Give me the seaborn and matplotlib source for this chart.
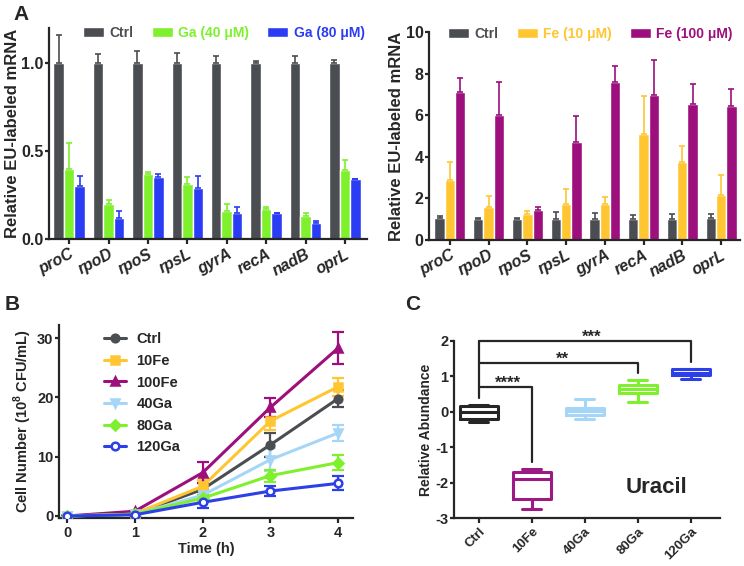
import numpy as np
import pandas as pd
import matplotlib
matplotlib.use('Agg')
import matplotlib.pyplot as plt
import seaborn as sns

# data
genes = ['proC', 'rpoD', 'rpoS', 'rpsL', 'gyrA', 'recA', 'nadB', 'oprL']

# panel A, left: Ga treatment (bar value, top of error bar)
ga_ctrl = [1.0, 1.0, 1.0, 1.0, 1.0, 1.0, 1.0, 1.0]
ga_ctrl_top = [1.16, 1.05, 1.07, 1.06, 1.04, 1.01, 1.04, 1.02]
ga40 = [0.40, 0.20, 0.37, 0.31, 0.16, 0.17, 0.13, 0.39]
ga40_top = [0.545, 0.22, 0.38, 0.35, 0.20, 0.18, 0.15, 0.45]
ga80 = [0.30, 0.12, 0.35, 0.29, 0.15, 0.15, 0.09, 0.34]
ga80_top = [0.36, 0.16, 0.37, 0.36, 0.18, 0.15, 0.10, 0.34]

# panel A, right: Fe treatment
fe_ctrl = [1.05, 1.03, 1.03, 1.03, 1.03, 1.03, 1.03, 1.05]
fe_ctrl_top = [1.15, 1.07, 1.07, 1.35, 1.28, 1.2, 1.25, 1.25]
fe10 = [2.89, 1.57, 1.24, 1.73, 1.73, 5.09, 3.74, 2.17]
fe10_top = [3.77, 2.12, 1.41, 2.47, 2.09, 6.93, 4.53, 3.11]
fe100 = [7.11, 6.02, 1.44, 4.69, 7.58, 6.95, 6.55, 6.42]
fe100_top = [7.78, 7.62, 1.61, 5.97, 8.38, 8.64, 7.50, 7.27]

# panel B: growth curves
time_h = [0, 1, 2, 3, 4]
growth = {
    'Ctrl': [0, 0.3, 4.5, 12.0, 19.8],
    '10Fe': [0, 0.4, 5.0, 16.0, 21.8],
    '100Fe': [0, 0.8, 7.3, 18.3, 28.3],
    '40Ga': [0, 0.3, 3.5, 9.5, 14.0],
    '80Ga': [0, 0.3, 3.0, 6.8, 9.0],
    '120Ga': [0, 0.2, 2.3, 4.2, 5.5],
}
growth_err = {
    'Ctrl': [0, 0.1, 1.0, 2.0, 1.5],
    '10Fe': [0, 0.1, 1.0, 1.5, 1.5],
    '100Fe': [0, 0.1, 1.8, 1.6, 2.7],
    '40Ga': [0, 0.1, 0.8, 2.0, 1.4],
    '80Ga': [0, 0.1, 0.6, 1.0, 1.2],
    '120Ga': [0, 0.1, 1.0, 0.8, 1.2],
}

# panel C: uracil relative abundance (min, q1, median, q3, max)
groups_c = ['Ctrl', '10Fe', '40Ga', '80Ga', '120Ga']
uracil = {
    'Ctrl': [-0.30, -0.19, 0.0, 0.17, 0.20],
    '10Fe': [-2.75, -2.47, -1.89, -1.70, -1.62],
    '40Ga': [-0.19, -0.08, 0.02, 0.12, 0.35],
    '80Ga': [0.28, 0.52, 0.64, 0.75, 0.90],
    '120Ga': [0.92, 1.04, 1.10, 1.20, 1.22],
}

c_ctrl = '#4a4d51'
c_ga40 = '#7ef02c'
c_ga80 = '#2b3cf5'
c_fe10 = '#ffc631'
c_fe100 = '#9c0f7d'
c_ga40_light = '#a6d6f7'
c_ga120 = '#2d3fe8'

sns.set_style('ticks')
plt.rcParams['font.family'] = ['Liberation Sans', 'DejaVu Sans']
plt.rcParams['font.weight'] = 'bold'
plt.rcParams['axes.labelweight'] = 'bold'
plt.rcParams['axes.linewidth'] = 1.6
plt.rcParams['axes.unicode_minus'] = False
plt.rcParams['axes.labelpad'] = 2
plt.rcParams['xtick.major.width'] = 1.6
plt.rcParams['ytick.major.width'] = 1.6
plt.rcParams['xtick.major.size'] = 3.5
plt.rcParams['ytick.major.size'] = 3
plt.rcParams['xtick.major.pad'] = 2
plt.rcParams['ytick.major.pad'] = 1
plt.rcParams['mathtext.fontset'] = 'custom'
plt.rcParams['mathtext.rm'] = 'Liberation Sans:bold'
plt.rcParams['mathtext.bf'] = 'Liberation Sans:bold'

W, H = 744, 566
fig = plt.figure(figsize=(W / 100, H / 100), dpi=100)


def px_axes(left, right, top, bottom):
    return fig.add_axes([left / W, 1 - bottom / H, (right - left) / W, (bottom - top) / H])


def bar_panel(ax, ctrl, ctrl_top, t1, t1_top, t2, t2_top, names, colors):
    df = pd.DataFrame({
        'gene': genes * 3,
        'cond': [names[0]] * 8 + [names[1]] * 8 + [names[2]] * 8,
        'value': ctrl + t1 + t2,
    })
    sns.barplot(data=df, x='gene', y='value', hue='cond', palette=colors,
                errorbar=None, width=0.8, saturation=1, ax=ax)
    tops = [ctrl_top, t1_top, t2_top]
    for cont, top, col in zip(ax.containers, tops, colors):
        for bar, tp in zip(cont, top):
            xc = bar.get_x() + bar.get_width() / 2
            h = bar.get_height()
            ax.errorbar(xc, h, yerr=[[0], [max(tp - h, 0)]], color=col,
                        elinewidth=1.2, capsize=2, capthick=1.2, zorder=1)
    ax.set_xlabel('')
    ax.set_ylabel('Relative EU-labeled mRNA', fontsize=12, labelpad=1)
    for lab in ax.get_xticklabels():
        lab.set_style('italic')
        lab.set_fontweight('bold')
        lab.set_fontsize(11.5)
        lab.set_rotation(28)
        lab.set_ha('right')
        lab.set_rotation_mode('anchor')
    ax.tick_params(axis='y', labelsize=11.5)
    sns.despine(ax=ax)
    leg = ax.legend(ncol=3, frameon=False, loc='upper center',
                    handlelength=1.5, handleheight=0.7, columnspacing=1.3,
                    handletextpad=0.4, fontsize=10)
    for txt, col in zip(leg.get_texts(), colors):
        txt.set_color(col)
    return leg


# panel A left
axa1 = px_axes(49, 367, 28, 239)
leg = bar_panel(axa1, ga_ctrl, ga_ctrl_top, ga40, ga40_top, ga80, ga80_top,
                ['Ctrl', 'Ga (40 μM)', 'Ga (80 μM)'], [c_ctrl, c_ga40, c_ga80])
leg.set_bbox_to_anchor((0.55, 1.07), transform=axa1.transAxes)
axa1.set_xlim(-0.51, 7.56)
axa1.set_ylim(0, 1.2)
axa1.set_yticks([0, 0.5, 1.0])
axa1.set_yticklabels(['0.0', '0.5', '1.0'])

# panel A right
axa2 = px_axes(429, 740, 32, 240)
leg = bar_panel(axa2, fe_ctrl, fe_ctrl_top, fe10, fe10_top, fe100, fe100_top,
                ['Ctrl', 'Fe (10 μM)', 'Fe (100 μM)'], [c_ctrl, c_fe10, c_fe100])
leg.set_bbox_to_anchor((0.52, 1.085), transform=axa2.transAxes)
axa2.set_xlim(-0.54, 7.49)
axa2.set_ylim(0, 10)
axa2.set_yticks([0, 2, 4, 6, 8, 10])

# panel B
axb = px_axes(59, 353, 325, 518)
series_style = {
    'Ctrl': (c_ctrl, 'o', c_ctrl),
    '10Fe': (c_fe10, 's', c_fe10),
    '100Fe': (c_fe100, '^', c_fe100),
    '40Ga': (c_ga40_light, 'v', c_ga40_light),
    '80Ga': (c_ga40, 'D', c_ga40),
    '120Ga': (c_ga120, 'o', 'white'),
}
for name, vals in growth.items():
    col, mk, face = series_style[name]
    sns.lineplot(x=time_h, y=vals, color=col, marker=mk, markersize=5.5,
                 markerfacecolor=face, markeredgecolor=col, markeredgewidth=1.8,
                 linewidth=2.2, label=name, ax=axb, zorder=3)
    axb.errorbar(time_h, vals, yerr=growth_err[name], fmt='none', ecolor=col,
                 elinewidth=1.6, capsize=4, capthick=1.6, zorder=2)
axb.set_xlim(-0.12, 4.22)
axb.set_ylim(-0.34, 32.2)
axb.set_xticks([0, 1, 2, 3, 4])
axb.set_yticks([0, 10, 20, 30])
axb.tick_params(labelsize=10.5)
axb.set_xlabel('Time (h)', fontsize=10.5)
axb.set_ylabel(r'Cell Number (10$^{8}$ CFU/mL)', fontsize=10.5)
axb.legend(frameon=False, loc='upper left', bbox_to_anchor=(0.11, 1.03), fontsize=10.5,
           handlelength=1.5, labelspacing=0.52, handletextpad=0.7)
sns.despine(ax=axb)

# panel C
axc = px_axes(454, 720, 341, 518)
dfc = pd.DataFrame({
    'group': [g for g in groups_c for _ in uracil[g]],
    'value': [v for g in groups_c for v in uracil[g]],
})
pal_c = {'Ctrl': '#262626', '10Fe': '#9c1a84', '40Ga': c_ga40_light,
         '80Ga': c_ga40, '120Ga': c_ga120}
sns.boxplot(data=dfc, x='group', y='value', hue='group', palette=pal_c, order=groups_c,
            whis=(0, 100), fill=False, linewidth=2.2, width=0.72, legend=False, ax=axc)
axc.set_xlim(-0.47, 4.55)
axc.set_ylim(-3, 2)
axc.set_yticks([-3, -2, -1, 0, 1, 2])
axc.set_xlabel('')
axc.set_ylabel('Relative Abundance', fontsize=10)
axc.tick_params(axis='y', labelsize=10.5)
for lab in axc.get_xticklabels():
    lab.set_fontsize(9.5)
    lab.set_rotation(45)
    lab.set_ha('right')
    lab.set_rotation_mode('anchor')
sns.despine(ax=axc)

brk = dict(color='#262626', lw=1.6, clip_on=False)
axc.plot([0, 0], [0.39, 2.0], **brk)
axc.plot([0, 4, 4], [2.0, 2.0, 1.42], **brk)
axc.plot([0, 3, 3], [1.37, 1.37, 1.09], **brk)
axc.plot([0, 1, 1], [0.71, 0.71, -1.41], **brk)
axc.text(2.13, 2.1, '***', ha='center', va='center', fontsize=12, clip_on=False)
axc.text(1.58, 1.47, '**', ha='center', va='center', fontsize=12)
axc.text(0.55, 0.81, '****', ha='center', va='center', fontsize=12)
axc.text(3.36, -2.15, 'Uracil', ha='center', va='center', fontsize=16)

# panel letters
fig.text(13 / W, 1 - 15 / H, 'A', fontsize=15, va='center', ha='left')
fig.text(5 / W, 1 - 304 / H, 'B', fontsize=15, va='center', ha='left')
fig.text(405 / W, 1 - 304 / H, 'C', fontsize=15, va='center', ha='left')

fig.savefig('out.png', dpi=100)
